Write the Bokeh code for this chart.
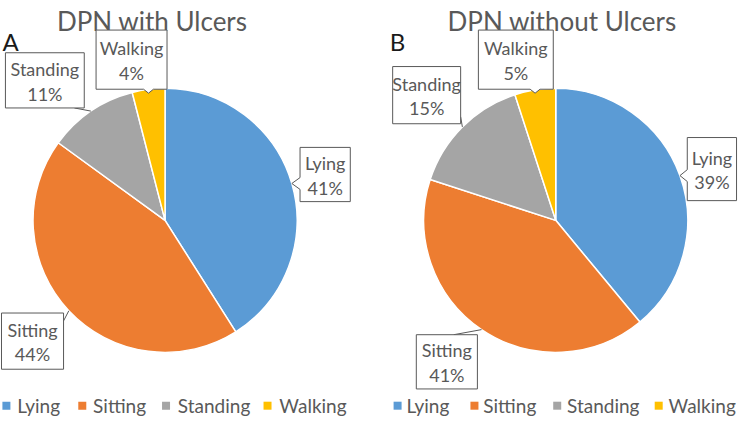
import numpy as np
from bokeh.plotting import figure
from bokeh.models import Range1d
from bokeh.embed import file_html
from bokeh.resources import INLINE
from bokeh.core.properties import value

# ---------------- data ----------------
categories = ["Lying", "Sitting", "Standing", "Walking"]
with_ulcers = [41, 44, 11, 4]
without_ulcers = [39, 41, 15, 5]
titles = ["DPN with Ulcers", "DPN without Ulcers"]
panel_letters = ["A", "B"]

# ---------------- styles / layout ----------------
colors = ["#5B9BD5", "#ED7D31", "#A5A5A5", "#FFC000"]
TXT = "#595959"
FONT = "Lato"
H = 435.0


def Y(v):
    return H - v


p = figure(width=739, height=419, x_range=Range1d(3, 753), y_range=Range1d(Y(433), Y(8)),
           output_backend="svg", toolbar_location=None, x_axis_type=None, y_axis_type=None,
           min_border=0, outline_line_color=None)
p.grid.visible = False

panels = [
    dict(values=with_ulcers, cx=170.0, cy=231.0, R=134.0, title_x=157, letter_x=5,
         boxes={
             "Lying": ((307, 157, 358, 212), "left"),
             "Walking": ((100, 38, 172, 98), "bottom"),
             "Standing": ((8, 61, 88, 117), ("line", 78, 117)),
             "Sitting": ((4, 325, 67, 382), ("line", 67, 333)),
         },
         leg_sq=[9, 86, 171, 274], leg_tx=[20, 97, 183, 286]),
    dict(values=without_ulcers, cx=566.5, cy=231.0, R=134.0, title_x=573, letter_x=398,
         boxes={
             "Lying": ((700, 147, 750, 211), "left"),
             "Walking": ((488, 38, 564, 98), "bottom"),
             "Standing": ((401, 75, 470, 133), ("line", 470, 126)),
             "Sitting": ((425, 347, 487, 402), ("line", 463, 347)),
         },
         leg_sq=[406, 484, 568, 671], leg_tx=[415, 493, 578, 681]),
]

for i, pn in enumerate(panels):
    vals = np.array(pn["values"], dtype=float)
    frac = vals / vals.sum()
    cum = np.concatenate([[0], np.cumsum(frac)])
    starts = np.pi / 2 - 2 * np.pi * cum[:-1]
    ends = np.pi / 2 - 2 * np.pi * cum[1:]
    cx, cy, R = pn["cx"], pn["cy"], pn["R"]
    p.wedge(x=[cx] * 4, y=[Y(cy)] * 4, radius=R, start_angle=list(starts), end_angle=list(ends),
            direction="clock", fill_color=colors, line_color="white", line_width=1.5)

    # title and panel letter
    p.text(x=[pn["title_x"]], y=[Y(29)], text=[titles[i]], text_align="center",
           text_baseline="alphabetic", text_font=value(FONT), text_font_size="26px",
           text_color=TXT)
    p.text(x=[pn["letter_x"]], y=[Y(50)], text=[panel_letters[i]], text_align="left",
           text_baseline="alphabetic", text_font=value(FONT), text_font_size="24px",
           text_color="#1a1a1a")

    # callouts
    mids = np.pi / 2 - 2 * np.pi * (cum[:-1] + frac / 2)
    for k, cat in enumerate(categories):
        ax = cx + R * np.cos(mids[k])
        ay = cy - R * np.sin(mids[k])
        (x0, y0, x1, y1), kind = pn["boxes"][cat]
        if kind == "left":
            xs = [x0, x1, x1, x0, x0, ax, x0]
            ys = [y0, y0, y1, y1, ay + 6, ay, ay - 6]
        elif kind == "bottom":
            xs = [x0, x1, x1, ax + 5, ax, ax - 5, x0]
            ys = [y0, y0, y1, y1, y1 + 4, y1, y1]
        else:
            xs = [x0, x1, x1, x0]
            ys = [y0, y0, y1, y1]
            p.line(x=[kind[1], ax], y=[Y(kind[2]), Y(ay)], line_color=TXT, line_width=1)
        p.patch(x=xs, y=[Y(v) for v in ys], fill_color="white", line_color=TXT, line_width=1)
        bx = (x0 + x1) / 2
        by = (y0 + y1) / 2
        pct = f"{int(round(frac[k] * 100))}%"
        p.text(x=[bx, bx], y=[Y(by - 11.5), Y(by + 13.5)], text=[cat, pct], text_align="center",
               text_baseline="middle", text_font=value(FONT), text_font_size="18px",
               text_color=TXT)

    # legend
    p.scatter(x=pn["leg_sq"], y=[Y(419)] * 4, marker="square", size=8, fill_color=colors,
              line_color=None)
    p.text(x=pn["leg_tx"], y=[Y(419)] * 4, text=categories, text_align="left",
           text_baseline="middle", text_font=value(FONT), text_font_size="19px",
           text_color=TXT)

open("out.html", "w").write(file_html(p, INLINE))
